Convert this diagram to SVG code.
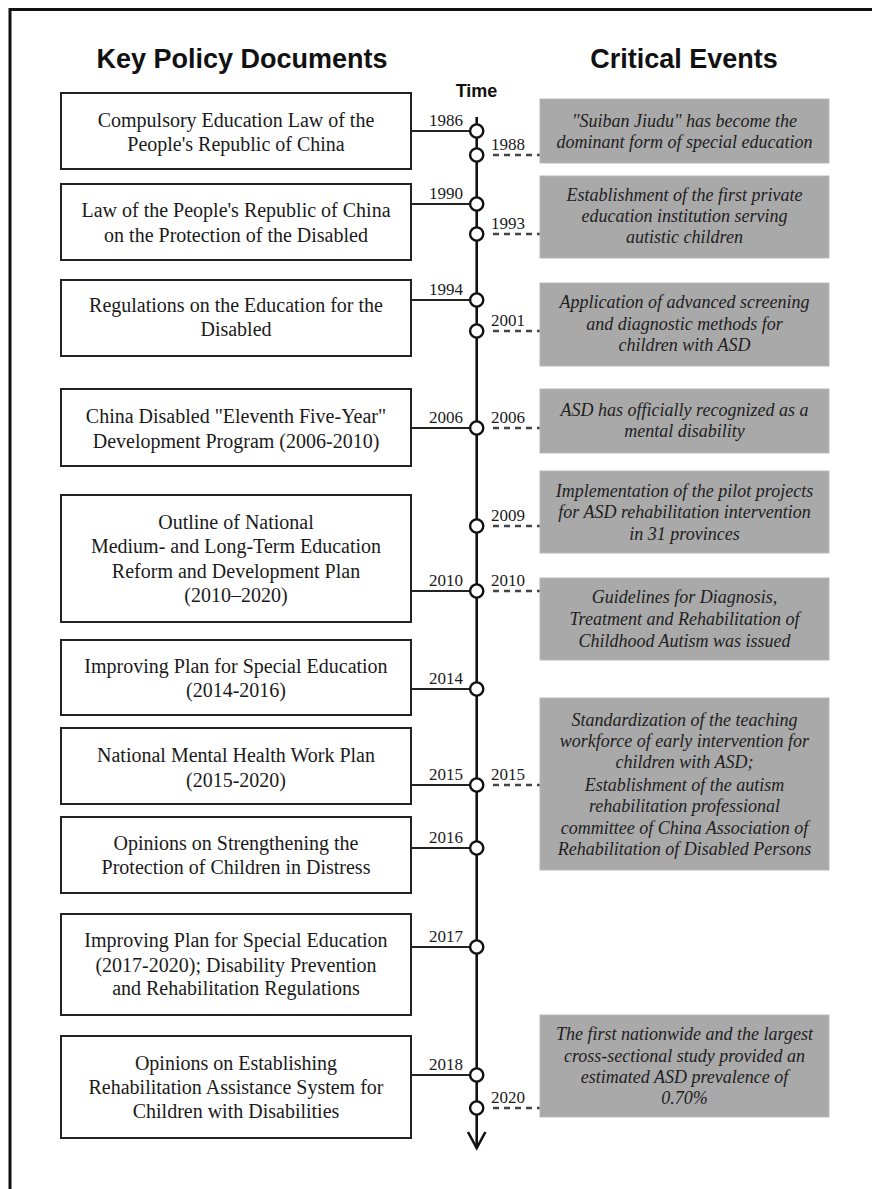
<svg xmlns="http://www.w3.org/2000/svg" width="872" height="1189" viewBox="0 0 872 1189">
<style>
.bg{fill:#fff}
.frame{fill:none;stroke:#111;stroke-width:3}
.title{font-family:"Liberation Sans",Arial,sans-serif;font-weight:bold;font-size:27px;fill:#111;text-anchor:middle}
.time{font-family:"Liberation Sans",Arial,sans-serif;font-weight:bold;font-size:18px;fill:#111;text-anchor:middle}
.box{fill:#fff;stroke:#222;stroke-width:2}
.gbox{fill:#a9a9a9;stroke:#b8b8b8;stroke-width:1}
.lt{font-family:"Liberation Serif","Times New Roman",serif;font-size:20px;fill:#1a1a1a;text-anchor:middle}
.rt{font-family:"Liberation Serif","Times New Roman",serif;font-style:italic;font-size:18px;fill:#1e1e1e;text-anchor:middle}
.yl{font-family:"Liberation Serif","Times New Roman",serif;font-size:17px;fill:#1a1a1a;text-anchor:end}
.yr{font-family:"Liberation Serif","Times New Roman",serif;font-size:17px;fill:#1a1a1a}
.axis{fill:none;stroke:#111;stroke-width:2.6}
.conn{fill:none;stroke:#222;stroke-width:1.8}
.dash{fill:none;stroke:#444;stroke-width:2.4;stroke-dasharray:6 5}
.dot{fill:#fff;stroke:#111;stroke-width:2.4}
</style>
<rect class="bg" x="0" y="0" width="872" height="1189"/>
<path class="frame" d="M10,1189 V9.5 H872"/>
<text class="title" x="242" y="68">Key Policy Documents</text>
<text class="title" x="684" y="68">Critical Events</text>
<text class="time" x="476.5" y="97">Time</text>

<g id="connectors">
<line class="axis" x1="476.7" y1="117" x2="476.7" y2="1148"/>
<polyline class="axis" points="468,1132 476.7,1148 485.4,1132"/>
<line class="conn" x1="411" y1="131" x2="470" y2="131"/>
<line class="conn" x1="411" y1="204" x2="470" y2="204"/>
<line class="conn" x1="411" y1="300" x2="470" y2="300"/>
<line class="conn" x1="411" y1="428" x2="470" y2="428"/>
<line class="conn" x1="411" y1="591" x2="470" y2="591"/>
<line class="conn" x1="411" y1="689" x2="470" y2="689"/>
<line class="conn" x1="411" y1="785" x2="470" y2="785"/>
<line class="conn" x1="411" y1="848" x2="470" y2="848"/>
<line class="conn" x1="411" y1="947" x2="470" y2="947"/>
<line class="conn" x1="411" y1="1075" x2="470" y2="1075"/>
<line class="dash" x1="493" y1="155" x2="540" y2="155"/>
<line class="dash" x1="493" y1="234" x2="540" y2="234"/>
<line class="dash" x1="493" y1="331" x2="540" y2="331"/>
<line class="dash" x1="493" y1="428" x2="540" y2="428"/>
<line class="dash" x1="493" y1="526" x2="540" y2="526"/>
<line class="dash" x1="493" y1="591" x2="540" y2="591"/>
<line class="dash" x1="493" y1="785" x2="540" y2="785"/>
<line class="dash" x1="493" y1="1108" x2="540" y2="1108"/>
</g>

<g id="timeline-points">
<circle class="dot" cx="476.7" cy="131" r="6.6"/>
<circle class="dot" cx="476.7" cy="155" r="6.6"/>
<circle class="dot" cx="476.7" cy="204" r="6.6"/>
<circle class="dot" cx="476.7" cy="234" r="6.6"/>
<circle class="dot" cx="476.7" cy="300" r="6.6"/>
<circle class="dot" cx="476.7" cy="331" r="6.6"/>
<circle class="dot" cx="476.7" cy="428" r="6.6"/>
<circle class="dot" cx="476.7" cy="526" r="6.6"/>
<circle class="dot" cx="476.7" cy="591" r="6.6"/>
<circle class="dot" cx="476.7" cy="689" r="6.6"/>
<circle class="dot" cx="476.7" cy="785" r="6.6"/>
<circle class="dot" cx="476.7" cy="848" r="6.6"/>
<circle class="dot" cx="476.7" cy="947" r="6.6"/>
<circle class="dot" cx="476.7" cy="1075" r="6.6"/>
<circle class="dot" cx="476.7" cy="1108" r="6.6"/>
</g>

<g id="year-labels">
<text class="yl" x="463" y="126">1986</text>
<text class="yl" x="463" y="199">1990</text>
<text class="yl" x="463" y="295">1994</text>
<text class="yl" x="463" y="423">2006</text>
<text class="yl" x="463" y="586">2010</text>
<text class="yl" x="463" y="684">2014</text>
<text class="yl" x="463" y="780">2015</text>
<text class="yl" x="463" y="843">2016</text>
<text class="yl" x="463" y="942">2017</text>
<text class="yl" x="463" y="1070">2018</text>
<text class="yr" x="491" y="150">1988</text>
<text class="yr" x="491" y="229">1993</text>
<text class="yr" x="491" y="326">2001</text>
<text class="yr" x="491" y="423">2006</text>
<text class="yr" x="491" y="521">2009</text>
<text class="yr" x="491" y="586">2010</text>
<text class="yr" x="491" y="780">2015</text>
<text class="yr" x="491" y="1103">2020</text>
</g>

<g id="doc-1986"><rect class="box" x="61" y="93" width="350" height="76"/>
<text class="lt" x="236" y="127">Compulsory Education Law of the</text>
<text class="lt" x="236" y="151">People's Republic of China</text></g>
<g id="doc-1990"><rect class="box" x="61" y="184" width="350" height="76"/>
<text class="lt" x="236" y="217">Law of the People's Republic of China</text>
<text class="lt" x="236" y="242">on the Protection of the Disabled</text></g>
<g id="doc-1994"><rect class="box" x="61" y="280" width="350" height="76"/>
<text class="lt" x="236" y="312">Regulations on the Education for the</text>
<text class="lt" x="236" y="336">Disabled</text></g>
<g id="doc-2006"><rect class="box" x="61" y="389" width="350" height="77"/>
<text class="lt" x="236" y="423">China Disabled "Eleventh Five-Year"</text>
<text class="lt" x="236" y="448">Development Program (2006-2010)</text></g>
<g id="doc-2010"><rect class="box" x="61" y="495" width="350" height="127"/>
<text class="lt" x="236" y="529">Outline of National</text>
<text class="lt" x="236" y="553">Medium- and Long-Term Education</text>
<text class="lt" x="236" y="578">Reform and Development Plan</text>
<text class="lt" x="236" y="602">(2010–2020)</text></g>
<g id="doc-2014"><rect class="box" x="61" y="640" width="350" height="75"/>
<text class="lt" x="236" y="673">Improving Plan for Special Education</text>
<text class="lt" x="236" y="697">(2014-2016)</text></g>
<g id="doc-2015"><rect class="box" x="61" y="728" width="350" height="76"/>
<text class="lt" x="236" y="762">National Mental Health Work Plan</text>
<text class="lt" x="236" y="787">(2015-2020)</text></g>
<g id="doc-2016"><rect class="box" x="61" y="817" width="350" height="76"/>
<text class="lt" x="236" y="850">Opinions on Strengthening the</text>
<text class="lt" x="236" y="874">Protection of Children in Distress</text></g>
<g id="doc-2017"><rect class="box" x="61" y="914" width="350" height="101"/>
<text class="lt" x="236" y="947">Improving Plan for Special Education</text>
<text class="lt" x="236" y="972">(2017-2020); Disability Prevention</text>
<text class="lt" x="236" y="995">and Rehabilitation Regulations</text></g>
<g id="doc-2018"><rect class="box" x="61" y="1036" width="350" height="102"/>
<text class="lt" x="236" y="1070">Opinions on Establishing</text>
<text class="lt" x="236" y="1094">Rehabilitation Assistance System for</text>
<text class="lt" x="236" y="1118">Children with Disabilities</text></g>

<g id="event-1988"><rect class="gbox" x="540" y="99" width="289" height="64"/>
<text class="rt" x="684.5" y="127">"Suiban Jiudu" has become the</text>
<text class="rt" x="684.5" y="148">dominant form of special education</text></g>
<g id="event-1993"><rect class="gbox" x="540" y="176" width="289" height="82"/>
<text class="rt" x="684.5" y="201">Establishment of the first private</text>
<text class="rt" x="684.5" y="222">education institution serving</text>
<text class="rt" x="684.5" y="243">autistic children</text></g>
<g id="event-2001"><rect class="gbox" x="540" y="283" width="289" height="83"/>
<text class="rt" x="684.5" y="308">Application of advanced screening</text>
<text class="rt" x="684.5" y="330">and diagnostic methods for</text>
<text class="rt" x="684.5" y="351">children with ASD</text></g>
<g id="event-2006"><rect class="gbox" x="540" y="389" width="289" height="64"/>
<text class="rt" x="684.5" y="416">ASD has officially recognized as a</text>
<text class="rt" x="684.5" y="437">mental disability</text></g>
<g id="event-2009"><rect class="gbox" x="540" y="471" width="289" height="82"/>
<text class="rt" x="684.5" y="497">Implementation of the pilot projects</text>
<text class="rt" x="684.5" y="518">for ASD rehabilitation intervention</text>
<text class="rt" x="684.5" y="540">in 31 provinces</text></g>
<g id="event-2010"><rect class="gbox" x="540" y="578" width="289" height="82"/>
<text class="rt" x="684.5" y="603">Guidelines for Diagnosis,</text>
<text class="rt" x="684.5" y="625">Treatment and Rehabilitation of</text>
<text class="rt" x="684.5" y="647">Childhood Autism was issued</text></g>
<g id="event-2015"><rect class="gbox" x="540" y="698" width="289" height="172"/>
<text class="rt" x="684.5" y="726">Standardization of the teaching</text>
<text class="rt" x="684.5" y="747">workforce of early intervention for</text>
<text class="rt" x="684.5" y="768">children with ASD;</text>
<text class="rt" x="684.5" y="791">Establishment of the autism</text>
<text class="rt" x="684.5" y="812">rehabilitation professional</text>
<text class="rt" x="684.5" y="834">committee of China Association of</text>
<text class="rt" x="684.5" y="855">Rehabilitation of Disabled Persons</text></g>
<g id="event-2020"><rect class="gbox" x="540" y="1015" width="289" height="102"/>
<text class="rt" x="684.5" y="1040">The first nationwide and the largest</text>
<text class="rt" x="684.5" y="1062">cross-sectional study provided an</text>
<text class="rt" x="684.5" y="1083">estimated ASD prevalence of</text>
<text class="rt" x="684.5" y="1104">0.70%</text></g>
</svg>
